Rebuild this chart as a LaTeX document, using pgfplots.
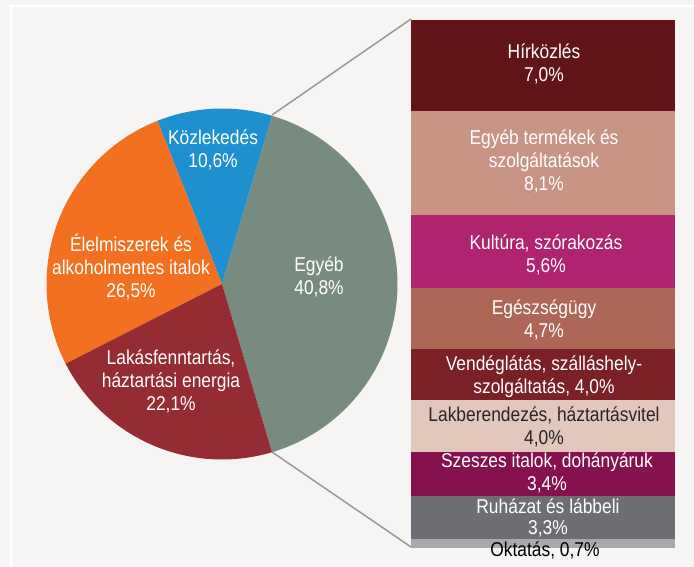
\documentclass[border=0pt]{standalone}
\usepackage{pgfplots}
\pgfplotsset{compat=1.18}
\usepackage{fontspec}
\setmainfont{Liberation Sans}[FakeStretch=0.87]
\definecolor{bg}{HTML}{F6F5F3}
\definecolor{cKoz}{HTML}{1E90D0}
\definecolor{cEle}{HTML}{F37021}
\definecolor{cLak}{HTML}{952B33}
\definecolor{cEgy}{HTML}{778B81}
\definecolor{b1}{HTML}{611518}
\definecolor{b2}{HTML}{C89484}
\definecolor{b3}{HTML}{B0236E}
\definecolor{b4}{HTML}{AE6657}
\definecolor{b5}{HTML}{7A2026}
\definecolor{b6}{HTML}{E2C7BD}
\definecolor{b7}{HTML}{86114F}
\definecolor{b8}{HTML}{6D6E71}
\definecolor{b9}{HTML}{A7A9AC}
\definecolor{conn}{HTML}{999999}
\newcommand{\lbl}{\fontsize{20}{23}\selectfont}
% pie values (%): Egyeb 40.8, Kozlekedes 10.6, Elelmiszerek 26.5, Lakasfenntartas 22.1
\pgfmathsetmacro\aZero{-40.8*1.8}
\pgfmathsetmacro\aOne{\aZero+40.8*3.6}
\pgfmathsetmacro\aTwo{\aOne+10.6*3.6}
\pgfmathsetmacro\aThree{\aTwo+26.5*3.6}
\pgfmathsetmacro\aFour{\aThree+22.1*3.6}
\begin{document}
\begin{tikzpicture}[x=1pt,y=1pt]
\fill[bg] (0,0) rectangle (694,567);
\draw[white, line width=2pt] (11,0) -- (11,561) -- (694,561);
% connectors
\draw[conn, line width=1.5pt] (272,115) -- (411,20);
\draw[conn, line width=1.5pt] (272,452) -- (411,548);
% pie
\begin{axis}[at={(222pt,283pt)}, anchor=center, scale only axis, width=351pt, height=351pt,
  xmin=-1, xmax=1, ymin=-1, ymax=1, hide axis, clip=false]
\addplot[fill=cEgy, draw=none, domain=\aZero:\aOne, samples=120, variable=\t] ({cos(\t)},{sin(\t)}) -- (axis cs:0,0) -- cycle;
\addplot[fill=cKoz, draw=none, domain=\aOne:\aTwo, samples=60, variable=\t] ({cos(\t)},{sin(\t)}) -- (axis cs:0,0) -- cycle;
\addplot[fill=cEle, draw=none, domain=\aTwo:\aThree, samples=100, variable=\t] ({cos(\t)},{sin(\t)}) -- (axis cs:0,0) -- cycle;
\addplot[fill=cLak, draw=none, domain=\aThree:\aFour, samples=100, variable=\t] ({cos(\t)},{sin(\t)}) -- (axis cs:0,0) -- cycle;
\end{axis}
% stacked bar
\begin{axis}[at={(411pt,19pt)}, anchor=south west, scale only axis, width=264pt, height=528pt,
  xmin=-0.5, xmax=0.5, ymin=0, ymax=40.8, y dir=reverse, ybar stacked, bar width=1,
  hide axis, enlargelimits=false]
\addplot[fill=b1, draw=none] coordinates {(0,7.0)};
\addplot[fill=b2, draw=none] coordinates {(0,8.1)};
\addplot[fill=b3, draw=none] coordinates {(0,5.6)};
\addplot[fill=b4, draw=none] coordinates {(0,4.7)};
\addplot[fill=b5, draw=none] coordinates {(0,4.0)};
\addplot[fill=b6, draw=none] coordinates {(0,4.0)};
\addplot[fill=b7, draw=none] coordinates {(0,3.4)};
\addplot[fill=b8, draw=none] coordinates {(0,3.3)};
\addplot[fill=b9, draw=none] coordinates {(0,0.7)};
\end{axis}
% pie labels
\begin{scope}[every node/.style={align=center, font=\lbl, inner sep=0pt}]
\node[white] at (213,567-150) {Közlekedés\\10,6\%};
\node[white] at (131,567-267.5) {Élelmiszerek és\\alkoholmentes italok\\26,5\%};
\node[white] at (319,567-277) {Egyéb\\40,8\%};
\node[white] at (171,567-381.5) {Lakásfenntartás,\\háztartási energia\\22,1\%};
% bar labels
\node[white] at (544,567-64) {Hírközlés\\7,0\%};
\node[white] at (544,567-161) {Egyéb termékek és\\szolgáltatások\\8,1\%};
\node[white] at (546,567-255) {Kultúra, szórakozás\\5,6\%};
\node[white] at (544,567-320) {Egészségügy\\4,7\%};
\node[white] at (544,567-376.5) {Vendéglátás, szálláshely-\\szolgáltatás, 4,0\%};
\node[black!85] at (544,567-427) {Lakberendezés, háztartásvitel\\4,0\%};
\node[white] at (547,567-473) {Szeszes italok, dohányáruk\\3,4\%};
\node[white, font=\fontsize{20}{20.5}\selectfont] at (548,567-518) {Ruházat és lábbeli\\3,3\%};
\node[black] at (545,567-550) {Oktatás, 0,7\%};
\end{scope}
\pgfresetboundingbox
\useasboundingbox (0,0) rectangle (694,567);
\end{tikzpicture}
\end{document}
